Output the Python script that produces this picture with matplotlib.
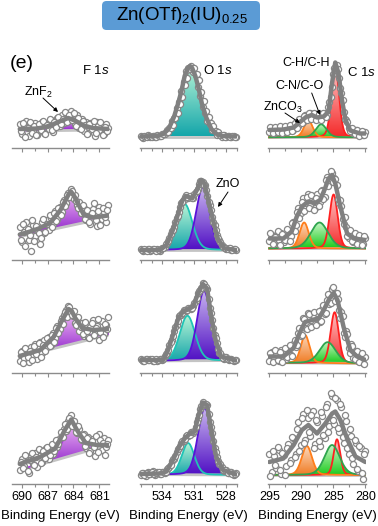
import matplotlib.pyplot as plt
import numpy as np
from matplotlib.colors import to_rgba
from matplotlib.patches import FancyBboxPatch, FancyArrowPatch
from matplotlib.path import Path

plt.rcParams['font.family'] = ['Liberation Sans', 'DejaVu Sans']
plt.rcParams['mathtext.fontset'] = 'custom'
plt.rcParams['mathtext.rm'] = 'Liberation Sans'
plt.rcParams['mathtext.it'] = 'Liberation Sans:italic'

W, H = 378, 526

# energy grids of the measured points (eV); second sweep sits half a step in between
f1s_e = np.linspace(690.2, 680.0, 41)
o1s_e = np.linspace(536.0, 527.1, 41)
c1s_e = np.linspace(295.0, 280.0, 41)

# ---------------- F 1s (rows top -> bottom), intensity in arb. units ----------------
f1s_pts = [
    [24, 14, 21, 27, 12, 22, 17, 25, 13, 23, 26, 15, 24, 19, 28, 16, 27, 30, 22, 33, 25,
     35, 27, 37, 31, 24, 33, 20, 29, 17, 26, 15, 25, 22, 12, 26, 18, 23, 14, 24, 20],
    [33, 18, 28, 38, 20, 9, 35, 24, 30, 16, 38, 27, 40, 30, 42, 36, 49, 41, 53, 48, 60,
     57, 68, 72, 63, 66, 55, 58, 47, 52, 40, 49, 36, 51, 44, 34, 53, 41, 48, 38, 55],
    [12, 22, 15, 24, 11, 26, 17, 29, 14, 31, 20, 33, 25, 36, 28, 40, 35, 47, 44, 55, 58,
     63, 67, 60, 57, 50, 55, 42, 50, 37, 49, 36, 46, 53, 40, 47, 33, 52, 39, 48, 56],
    [14, 25, 18, 28, 11, 27, 20, 31, 17, 34, 22, 30, 36, 25, 38, 30, 41, 37, 46, 50, 55,
     53, 63, 69, 60, 57, 51, 55, 44, 50, 36, 47, 33, 45, 28, 42, 50, 34, 46, 37, 44],
]
f1s_pts2 = [
    [17, 25, 11, 20, 26, 15, 22, 13, 24, 18, 27, 14, 23, 29, 18, 26, 21, 31, 24, 29,
     36, 26, 33, 28, 35, 22, 30, 19, 27, 23, 14, 24, 19, 27, 15, 22, 26, 13, 21, 17],
    [20, 36, 14, 31, 25, 40, 19, 34, 27, 22, 41, 28, 36, 45, 33, 47, 39, 52, 45, 58,
     54, 66, 63, 70, 61, 59, 52, 47, 55, 41, 50, 38, 47, 57, 40, 49, 35, 52, 43, 50],
    [21, 10, 25, 16, 22, 13, 27, 19, 30, 16, 28, 22, 35, 27, 38, 31, 45, 40, 52, 49,
     61, 56, 66, 58, 62, 48, 56, 46, 39, 51, 42, 35, 50, 38, 45, 54, 41, 36, 49, 44],
    [22, 16, 29, 13, 24, 31, 19, 27, 35, 21, 33, 26, 37, 29, 40, 33, 44, 40, 52, 47,
     60, 55, 66, 58, 63, 52, 58, 45, 49, 38, 46, 31, 43, 37, 48, 32, 44, 41, 29, 40],
]
f1s_env = [
    [(690.2, 19), (688.4, 19.4), (687.4, 20.6), (686.4, 23.5), (685.4, 27.3), (684.6, 30),
     (683.8, 27.3), (682.8, 22.5), (681.8, 20), (680.0, 19)],
    [(690.2, 26), (689.0, 29), (688.0, 32), (686.7, 37.5), (685.5, 50.5), (684.6, 65.5),
     (684.3, 69), (683.95, 65), (683.6, 58.8), (682.8, 45.5), (681.7, 43), (680.0, 45)],
    [(690.2, 17), (687.85, 23), (686.3, 36), (685.3, 53), (684.57, 64), (684.2, 62),
     (683.8, 55), (683.0, 45), (681.7, 43), (680.0, 44)],
    [(690.2, 20), (687.85, 27), (686.1, 35.5), (685.0, 54), (684.26, 64.5), (683.6, 54),
     (682.6, 41), (681.3, 39), (680.0, 39)],
]
f1s_base = [(17, 18), (24, 43), (16, 38), (13.5, 39)]     # background at 690.2 / 680.0 eV
f1s_znf2 = [(684.6, 12, 2.8), (684.26, 32, 2.6), (684.37, 31, 2.4), (684.17, 32, 2.3)]  # centre, height, FWHM

# ---------------- O 1s ----------------
o1s_pts = [
    [12.5, 10.5, 11.8, 12.6, 10.8, 12.3, 11.0, 12.9, 12.0, 14.5, 14.2, 18.1, 19.8, 27.0,
     30.2, 40.5, 46.3, 57.4, 66.0, 76.8, 79.6, 82.4, 76.2, 72.9, 61.3, 52.2, 40.7, 34.6,
     27.0, 24.2, 18.0, 17.5, 13.1, 14.0, 11.4, 12.8, 11.0, 12.5, 10.9, 12.3, 11.2],
    [11.2, 9.8, 10.9, 11.5, 9.6, 11.0, 10.2, 11.6, 9.9, 12.8, 13.5, 17.9, 22.5, 29.6,
     33.5, 42.8, 48.0, 57.3, 60.8, 65.5, 62.9, 64.0, 62.5, 68.9, 72.0, 79.3, 78.3, 75.8,
     64.0, 55.5, 43.4, 35.2, 25.0, 20.9, 15.3, 13.4, 11.2, 12.4, 10.5, 11.6, 10.0],
    [13.8, 12.1, 14.0, 12.6, 13.9, 11.8, 13.4, 12.3, 14.2, 12.9, 16.8, 19.6, 28.2, 33.1,
     42.5, 48.0, 56.7, 58.0, 62.6, 61.9, 65.0, 64.3, 67.5, 71.8, 80.4, 82.7, 89.8, 85.6,
     84.0, 65.5, 53.2, 38.0, 29.6, 20.5, 17.4, 14.1, 15.6, 13.2, 14.5, 12.1, 13.3],
    [9.0, 11.3, 8.2, 12.4, 9.6, 13.0, 8.8, 11.8, 10.0, 12.5, 10.9, 14.6, 16.8, 23.0,
     25.5, 32.4, 35.8, 41.5, 43.0, 47.9, 48.2, 51.9, 50.7, 56.8, 65.4, 74.9, 81.8, 79.2,
     78.9, 62.1, 51.0, 36.0, 27.4, 20.3, 17.5, 12.6, 13.6, 10.7, 11.9, 9.3, 10.6],
]
o1s_pts2 = [
    [11.0, 12.3, 10.9, 12.0, 11.3, 12.2, 11.1, 12.5, 11.8, 13.9, 15.6, 16.2, 20.4, 22.8,
     29.6, 34.6, 44.5, 51.0, 62.8, 70.5, 78.9, 80.2, 80.4, 73.6, 68.2, 55.6, 47.3, 36.9,
     31.5, 25.0, 21.8, 17.0, 16.0, 13.0, 13.3, 11.5, 12.4, 11.2, 12.1, 11.0],
    [10.1, 11.4, 9.9, 11.0, 10.3, 11.7, 9.8, 10.9, 11.6, 12.4, 16.1, 19.3, 26.8, 30.9,
     38.7, 44.6, 53.5, 58.2, 63.9, 63.2, 64.0, 62.3, 66.4, 69.6, 76.3, 79.5, 76.0, 70.6,
     58.8, 50.1, 38.4, 30.6, 22.0, 18.7, 13.6, 12.9, 11.1, 12.0, 10.4, 11.2],
    [13.5, 12.4, 13.9, 12.8, 13.6, 12.2, 14.0, 12.9, 13.7, 14.0, 18.9, 23.2, 31.4, 37.3,
     46.2, 51.6, 58.0, 59.6, 63.0, 62.6, 65.3, 65.0, 70.3, 75.2, 82.5, 85.4, 88.6, 85.8,
     74.0, 60.3, 44.9, 34.7, 24.4, 19.8, 15.2, 15.7, 13.8, 14.4, 12.7, 13.4],
    [10.6, 9.4, 11.5, 10.0, 11.9, 9.7, 10.8, 11.6, 10.2, 12.3, 12.0, 16.3, 19.1, 24.9,
     28.3, 34.8, 37.8, 42.9, 44.7, 48.6, 49.2, 52.0, 53.0, 61.8, 69.4, 78.1, 79.9, 79.8,
     69.8, 57.5, 42.8, 32.4, 23.0, 19.6, 14.4, 13.8, 11.5, 11.9, 9.8, 10.4],
]
o1s_env = [
    [(536.0, 11.5), (534.4, 12), (533.9, 14), (533.4, 19), (532.9, 31), (532.5, 45),
     (532.2, 57), (531.9, 72), (531.6, 80), (531.4, 82), (531.2, 80), (530.9, 72),
     (530.6, 60), (530.3, 45), (529.9, 31), (529.4, 19), (528.9, 14), (528.4, 12), (527.1, 11.5)],
    [(536.0, 10.5), (534.2, 10.5), (533.6, 15.5), (533.0, 30.5), (532.5, 47), (532.1, 60.5),
     (531.75, 64.5), (531.2, 62), (530.75, 70.5), (530.35, 80.5), (530.05, 77), (529.65, 59),
     (529.25, 40.5), (528.8, 22), (528.2, 12.2), (527.1, 10.5)],
    [(536.0, 13), (533.9, 13), (533.45, 23), (533.0, 38), (532.5, 54.5), (532.05, 61.5),
     (531.6, 63.5), (531.1, 66.5), (530.65, 79.5), (530.2, 89), (529.8, 84.5), (529.4, 56),
     (529.0, 33), (528.5, 16.5), (527.1, 12.5)],
    [(536.0, 10), (534.2, 10.5), (533.6, 12.5), (533.0, 24), (532.4, 37.5), (531.9, 45.5),
     (531.4, 50.5), (530.95, 52.5), (530.65, 67), (530.2, 81.5), (529.8, 79), (529.4, 54),
     (528.95, 27.5), (528.3, 14), (527.1, 9.5)],
]
o1s_base = [(11.5, 11.5), (10.5, 10.5), (12, 12.5), (9.5, 9)]
o1s_oh = [(531.4, 70.5, 2.24), (531.9, 46, 1.7), (531.64, 45, 1.7), (531.58, 31.7, 1.4)]
o1s_zno = [None, (530.2, 62.7, 1.5), (530.09, 70, 1.5), (530.02, 66.7, 1.5)]

# ---------------- C 1s ----------------
c1s_pts = [
    [16.5, 20.0, 14.8, 19.5, 17.0, 21.2, 15.6, 20.9, 17.3, 22.4, 18.1, 24.6, 22.5, 28.8,
     26.1, 33.0, 29.8, 35.1, 31.0, 33.7, 28.8, 32.9, 29.6, 34.6, 33.2, 46.0, 61.5, 80.2,
     83.5, 70.0, 55.1, 35.6, 28.4, 19.8, 18.9, 14.7, 17.6, 13.8, 16.4, 12.9, 15.6],
    [19.5, 25.8, 17.2, 24.1, 20.0, 27.3, 18.6, 21.2, 30.4, 24.0, 38.5, 35.0, 52.3, 47.0,
     62.0, 51.5, 66.8, 54.0, 64.5, 52.3, 67.0, 58.4, 70.2, 63.5, 84.0, 78.6, 88.0, 83.0,
     75.5, 57.8, 54.0, 36.8, 33.5, 22.0, 28.3, 18.9, 25.5, 17.8, 23.9, 16.5, 22.4],
    [12.5, 21.0, 14.3, 19.6, 11.8, 22.7, 15.9, 13.6, 24.8, 18.2, 29.0, 26.3, 40.5, 36.8,
     55.0, 45.3, 59.6, 47.0, 57.8, 49.2, 60.4, 51.0, 64.1, 58.8, 73.5, 69.0, 83.6, 77.8,
     80.5, 63.0, 61.4, 40.2, 42.5, 24.8, 28.6, 15.3, 21.9, 12.0, 18.8, 10.2, 16.5],
    [30.5, 12.0, 27.8, 16.5, 34.0, 10.2, 29.5, 18.0, 40.3, 24.5, 46.0, 30.1, 62.5, 38.8,
     70.0, 44.5, 66.0, 48.2, 73.5, 40.0, 61.8, 38.5, 68.0, 45.6, 80.5, 58.0, 88.5, 60.2,
     84.0, 52.5, 77.0, 41.5, 63.0, 30.2, 48.5, 20.0, 41.2, 13.5, 36.0, 5.5, 32.8],
]
c1s_pts2 = [
    [21.5, 15.2, 20.8, 16.0, 21.6, 14.9, 22.0, 16.3, 23.1, 17.4, 24.6, 20.5, 28.6, 24.7,
     32.5, 27.9, 35.3, 29.4, 34.9, 27.8, 33.6, 28.0, 35.0, 30.6, 41.5, 51.0, 73.6, 78.0,
     79.2, 60.0, 47.8, 29.0, 26.5, 16.8, 19.9, 13.6, 18.3, 12.4, 17.1, 12.8],
    [27.0, 16.5, 23.8, 29.2, 15.8, 26.4, 20.3, 31.0, 19.5, 37.2, 29.8, 48.6, 42.0, 58.8,
     49.0, 63.5, 52.0, 66.0, 50.5, 62.8, 54.2, 69.5, 61.0, 80.2, 74.5, 90.0, 78.5, 82.0,
     61.5, 60.0, 41.0, 43.5, 24.5, 30.0, 19.0, 27.5, 16.5, 25.3, 15.9, 24.8],
    [19.8, 11.0, 23.5, 13.2, 21.0, 10.8, 25.0, 16.0, 27.6, 17.5, 33.5, 28.0, 45.2, 38.0,
     54.5, 44.0, 58.8, 46.5, 61.0, 48.0, 62.5, 52.0, 68.5, 60.5, 78.8, 70.2, 86.0, 72.5,
     74.5, 55.0, 57.0, 36.0, 39.5, 20.5, 27.0, 13.8, 22.0, 10.9, 19.6, 8.8],
    [8.5, 33.0, 19.5, 37.5, 14.0, 31.0, 9.5, 36.5, 21.0, 47.0, 27.5, 55.0, 33.5, 66.0,
     41.0, 74.0, 52.0, 69.5, 36.5, 64.0, 43.5, 72.0, 49.0, 77.5, 52.0, 91.0, 64.5, 86.5,
     56.0, 80.0, 47.5, 69.0, 36.5, 55.0, 26.0, 44.0, 15.5, 38.5, 11.0, 30.0],
]
c1s_env = [
    [(295.0, 18), (292.8, 18.5), (291.2, 20.5), (290.2, 26), (289.25, 31), (288.35, 33),
     (287.55, 30.5), (286.5, 31.5), (285.75, 36.5), (285.2, 65), (284.7, 85.5), (284.2, 75),
     (283.65, 48), (283.1, 28), (282.35, 17.5), (280.8, 14.5), (280.0, 14.5)],
    [(295.0, 22), (292.8, 22), (291.5, 29), (290.7, 44), (289.9, 54), (288.9, 59),
     (287.85, 57.5), (287.05, 60.5), (286.3, 72), (285.75, 82), (285.2, 85.5), (284.7, 77),
     (283.9, 54), (282.85, 27), (281.8, 22), (280.0, 20.5)],
    [(295.0, 16.5), (292.8, 16.5), (291.2, 25), (290.2, 41), (289.4, 51), (288.35, 53),
     (287.3, 54.5), (286.5, 63), (285.6, 74.5), (284.95, 80), (284.35, 73), (283.4, 46),
     (282.35, 23), (281.3, 16.5), (280.0, 13)],
    [(295.0, 22), (292.8, 25.5), (291.2, 39), (289.9, 54), (288.9, 59), (287.55, 50.5),
     (286.25, 60.5), (285.2, 70.5), (284.7, 72.5), (283.9, 64), (282.85, 45.5),
     (281.55, 27.5), (280.0, 22)],
]
c1s_base = [(10.7, 10.7), (12, 12), (10.3, 9.5), (9, 9)]
c1s_ch = [(284.7, 70, 1.4), (284.96, 54, 1.5), (284.8, 51, 1.5), (284.43, 35.7, 1.2)]
c1s_znco3 = [(288.9, 17, 1.6), (289.56, 26, 1.7), (289.4, 28, 1.6), (289.13, 29, 1.9)]
c1s_cn = [(286.9, 13, 2.0), (287.16, 26, 3.2), (285.9, 21, 3.0), (285.2, 30, 2.8)]

# fill colours: bottom, top, outline
STYLE = {
    'znf2': ('#8a1cc8', '#f0b8f6', '#a83ad8'),
    'oh': ('#15a6aa', '#b8f4d6', '#1fc4b6'),
    'zno': ('#5010c4', '#c8b4ee', '#5a12d8'),
    'ch': ('#f42a2a', '#ffc6c6', '#ff2020'),
    'znco3': ('#f07c24', '#fcd9be', '#ff7d1a'),
    'cn': ('#1ecb1e', '#c6f6c6', '#2ea44e'),
}


def pv(e, c, h, w, eta):
    g = np.exp(-4 * np.log(2) * ((e - c) / w) ** 2)
    l = 1 / (1 + 4 * ((e - c) / w) ** 2)
    return h * (eta * l + (1 - eta) * g)


def grad_fill(ax, x, y0, y1, style):
    cb, ct, edge = STYLE[style]
    cb, ct = np.array(to_rgba(cb)), np.array(to_rgba(ct))
    img = cb + (ct - cb) * np.linspace(0, 1, 64)[:, None, None]
    verts = np.column_stack([np.r_[x, x[::-1]], np.r_[y1, y0[::-1]]])
    im = ax.imshow(img, extent=[x.min(), x.max(), y0.min(), y1.max()],
                   origin='lower', aspect='auto', zorder=2, interpolation='bilinear')
    im.set_clip_path(Path(verts), ax.transData)
    ax.plot(x, y1, color=edge, lw=1.3, zorder=2.5)


fig = plt.figure(figsize=(W / 100, H / 100), dpi=100)

col_px = [(12, 97), (140, 97), (268, 98)]
row_bottom = [148, 260.5, 373, 484]
AX_H = 100

columns = [
    dict(e=f1s_e, pts=f1s_pts, pts2=f1s_pts2, env=f1s_env, base=f1s_base, eta=0.5,
         comps=[('znf2', f1s_znf2)], xlim=(691.1, 679.9),
         major=[690, 687, 684, 681], minor=[688.5, 685.5, 682.5]),
    dict(e=o1s_e, pts=o1s_pts, pts2=o1s_pts2, env=o1s_env, base=o1s_base, eta=0.15,
         comps=[('oh', o1s_oh), ('zno', o1s_zno)], xlim=(536.08, 527.04),
         major=[534, 531, 528], minor=[536, 535, 533, 532, 530, 529, 527]),
    dict(e=c1s_e, pts=c1s_pts, pts2=c1s_pts2, env=c1s_env, base=c1s_base, eta=0.2,
         comps=[('ch', c1s_ch), ('znco3', c1s_znco3), ('cn', c1s_cn)], xlim=(295.2, 279.9),
         major=[295, 290, 285, 280], minor=[292.5, 287.5, 282.5]),
]

for ci, col in enumerate(columns):
    x0, w = col_px[ci]
    e = col['e']
    e2 = (e[:-1] + e[1:]) / 2
    for ri in range(4):
        yb = row_bottom[ri]
        ax = fig.add_axes([x0 / W, 1 - yb / H, w / W, AX_H / H])
        ax.patch.set_alpha(0)
        ef = np.linspace(e[0], e[-1], 400)
        bl, br = col['base'][ri]
        bf = bl + (br - bl) * (e[0] - ef) / (e[0] - e[-1])
        for name, params in col['comps']:
            p = params[ri]
            if p is None:
                continue
            grad_fill(ax, ef, bf, bf + pv(ef, *p, col['eta']), name)
        ax.plot(ef, bf, color='#c4c4c4', lw=2.0, zorder=2.2)
        for xx, yy in [(e, col['pts'][ri]), (e2, col['pts2'][ri])]:
            ax.plot(xx, yy, 'o', ms=4.4, mfc='white', mec='#868686', mew=0.9,
                    zorder=4, clip_on=False)
        env = np.array(col['env'][ri])
        ax.plot(env[:, 0], env[:, 1], color='#808080', lw=3.2, zorder=5,
                solid_joinstyle='round', solid_capstyle='round')
        ax.set_xlim(*col['xlim'])
        ax.set_ylim(0, AX_H)
        for s in ['top', 'left', 'right']:
            ax.spines[s].set_visible(False)
        ax.spines['bottom'].set_color('#8c8c8c')
        ax.spines['bottom'].set_linewidth(1.0)
        ax.set_yticks([])
        ax.set_xticks(col['major'])
        ax.set_xticks(col['minor'], minor=True)
        ax.tick_params(axis='x', which='both', direction='out', colors='#8c8c8c',
                       labelcolor='black', width=0.8, labelsize=9, pad=2)
        ax.tick_params(axis='x', which='major', length=3.2)
        ax.tick_params(axis='x', which='minor', length=2.4)
        if ri < 3:
            ax.tick_params(labelbottom=False)
        else:
            ax.set_xlabel('Binding Energy (eV)', fontsize=9.5, labelpad=5)


def fp(x, y):
    return x / W, 1 - y / H


# title box
fig.add_artist(FancyBboxPatch(fp(102, 30), 158 / W, 29 / H, transform=fig.transFigure,
                              boxstyle='round,pad=0,rounding_size=0.012',
                              mutation_aspect=W / H, fc='#5b9bd5', ec='none'))
fig.text(*fp(182, 16), r'Zn(OTf)$_\mathregular{2}$(IU)$_\mathregular{0.25}$',
         fontsize=13.5, ha='center', va='center')

fig.text(*fp(22, 63), '(e)', fontsize=14, ha='center', va='center')
fig.text(*fp(82, 70), r'F 1$\mathit{s}$', fontsize=9.5, ha='left', va='center')
fig.text(*fp(203, 70), r'O 1$\mathit{s}$', fontsize=9.5, ha='left', va='center')
fig.text(*fp(347, 72), r'C 1$\mathit{s}$', fontsize=9.5, ha='left', va='center')
fig.text(*fp(306, 63), 'C-H/C-H', fontsize=9, ha='center', va='center')
fig.text(*fp(300, 86), 'C-N/C-O', fontsize=9, ha='center', va='center')
fig.text(*fp(283, 107), r'ZnCO$_\mathregular{3}$', fontsize=9, ha='center', va='center')
fig.text(*fp(38, 92), r'ZnF$_\mathregular{2}$', fontsize=9, ha='center', va='center')
fig.text(*fp(228, 184), 'ZnO', fontsize=9, ha='center', va='center')

for (xa, ya), (xb, yb) in [((43, 98), (58, 112)), ((228, 192), (218, 207)),
                           ((311.7, 93), (320, 115)), ((285, 113), (300, 123))]:
    fig.add_artist(FancyArrowPatch(fp(xa, ya), fp(xb, yb), transform=fig.transFigure,
                                   arrowstyle='-|>', mutation_scale=6, lw=0.7, color='k',
                                   shrinkA=0, shrinkB=0))

fig.savefig('out.png', dpi=100)
